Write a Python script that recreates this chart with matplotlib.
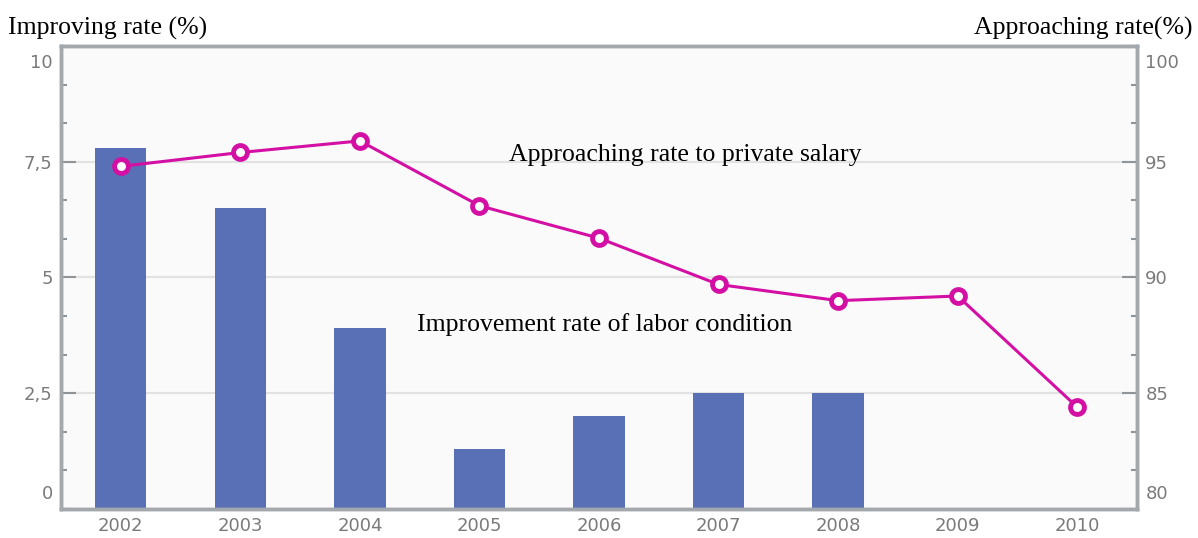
import numpy as np
import matplotlib.pyplot as plt
from matplotlib.ticker import FixedLocator, MultipleLocator
from matplotlib.transforms import ScaledTranslation

# data
years = ['2002', '2003', '2004', '2005', '2006', '2007', '2008', '2009', '2010']
improve_rate = [7.8, 6.5, 3.9, 1.3, 2.0, 2.5, 2.5, 0, 0]
approach_rate = [94.8, 95.4, 95.9, 93.1, 91.7, 89.7, 89.0, 89.2, 84.4]

left_ticks = [0, 2.5, 5, 7.5, 10]
left_labels = ['0', '2,5', '5', '7,5', '10']
right_ticks = [80, 85, 90, 95, 100]

bar_color = '#5a70b6'
line_color = '#d40fa4'
frame_color = '#a3a8ad'
tick_text = '#7a7a7a'

W, H = 1198, 538
fig = plt.figure(figsize=(W / 100, H / 100), dpi=100)
ax = fig.add_axes([61 / W, (H - 509) / H, (1137 - 61) / W, (509 - 46) / H])
ax.set_facecolor('#fafafa')

X = np.arange(len(years))
ax.bar(X, improve_rate, width=0.43, color=bar_color, zorder=2)
ax.set_xlim(-0.5, len(years) - 0.5)
ax.set_ylim(0, 10)
ax.set_xticks(X)
ax.set_xticklabels(years)
ax.yaxis.set_major_locator(FixedLocator(left_ticks))
ax.set_yticklabels(left_labels)
ax.yaxis.set_minor_locator(MultipleLocator(2.5 / 3))
for v in left_ticks[1:4]:
    ax.axhline(v, color='#e2e2e2', lw=1.5, zorder=1)

ax2 = ax.twinx()
ax2.plot(X, approach_rate, color=line_color, lw=2.2, marker='o', ms=10,
         mfc='white', mec=line_color, mew=3.5, zorder=3)
ax2.set_ylim(80, 100)
ax2.yaxis.set_major_locator(FixedLocator(right_ticks))
ax2.yaxis.set_minor_locator(MultipleLocator(5 / 3))

for a in (ax, ax2):
    for s in a.spines.values():
        s.set_color(frame_color)
        s.set_linewidth(2.5)
    a.tick_params(axis='both', which='major', direction='in', length=11, width=1.5,
                  color='#8f9499', labelcolor=tick_text, labelsize=13, pad=6)
    a.tick_params(axis='y', which='minor', direction='in', length=4, width=1.5,
                  color='#8f9499')
    a.tick_params(axis='x', length=0, pad=6)

# end labels sit inside the axis range
fig.canvas.draw()
for a in (ax, ax2):
    labs = a.get_yticklabels()
    labs[0].set_transform(labs[0].get_transform() + ScaledTranslation(0, 0.17, fig.dpi_scale_trans))
    labs[-1].set_transform(labs[-1].get_transform() + ScaledTranslation(0, -0.15, fig.dpi_scale_trans))

serif = 'Liberation Serif'
fig.text(8 / W, 1 - 28 / H, 'Improving rate (%)', family=serif, fontsize=18.5, va='center')
fig.text(1192 / W, 1 - 28 / H, 'Approaching rate(%)', family=serif, fontsize=18.5,
         va='center', ha='right')
fig.text(685 / W, 1 - 155 / H, 'Approaching rate to private salary', family=serif,
         fontsize=18.5, va='center', ha='center')
fig.text(605 / W, 1 - 325 / H, 'Improvement rate of labor condition', family=serif,
         fontsize=18.5, va='center', ha='center')

fig.savefig('out.png', dpi=100)
